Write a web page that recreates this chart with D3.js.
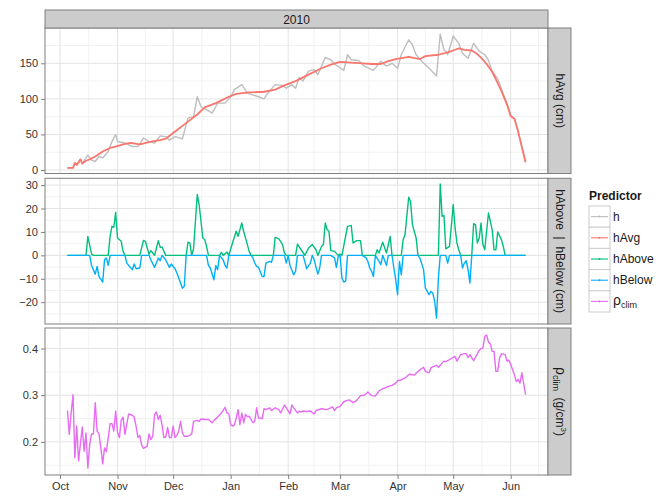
<!DOCTYPE html>
<head>
  <meta charset="utf-8">
  <script src="https://d3js.org/d3.v7.min.js"></script>
  <style>
    body { margin: 0; background: #fff; }
    text { font-family: "Liberation Sans", Arial, sans-serif; }
    .tick text { fill: #333; font-size: 11px; }
    .strip text { fill: #1a1a1a; font-size: 12px; }
    .legend text { fill: #1a1a1a; font-size: 12px; }
  </style>
</head>
<body>
<script>
// day offsets are days after 1 Oct 2009
var h = [[4,3],[7,3],[8,10],[9,7],[11,15],[12,9],[15,21],[17,14],[19,12],[21,19],[23,17],[26,26],[28,40],[30,50],[31,40],[35,38],[39,33],[42,33],[45,45],[48,40],[51,38],[54,48],[57,47],[59,42],[62,47],[66,44],[67,54],[69,73],[72,75],[74,103],[76,89],[79,85],[82,80],[84,89],[85,94],[89,94],[92,103],[94,113],[98,120],[101,108],[107,103],[110,100],[112,108],[116,120],[120,119],[122,115],[125,120],[127,115],[129,130],[131,125],[134,139],[137,141],[139,134],[143,158],[146,155],[148,149],[153,140],[155,162],[157,155],[161,154],[164,146],[169,140],[173,153],[176,146],[179,150],[182,143],[184,162],[188,183],[190,176],[192,162],[195,153],[199,143],[203,132],[205,191],[207,169],[208,167],[209,162],[212,188],[215,178],[217,164],[220,157],[223,178],[226,167],[229,162],[231,154],[233,139],[236,128],[238,114],[241,93],[243,76],[245,72],[247,54],[251,11]];

var hAvg = [[4,3],[7,3],[8,10],[9,7],[11,15],[12,9],[14,13],[16,15],[19,19],[23,26],[27,31],[30,33],[34,36],[38,38],[43,36],[49,40],[54,42],[57,44],[61,52],[64,58],[66,62],[69,68],[74,78],[78,88],[84,94],[91,103],[95,107],[102,109],[110,110],[116,113],[121,119],[127,125],[134,134],[141,143],[146,148],[151,152],[157,151],[163,150],[168,149],[173,149],[177,153],[181,156],[188,159],[192,157],[194,156],[197,160],[204,162],[210,166],[213,169],[215,171],[218,169],[222,168],[225,163],[227,158],[230,149],[233,138],[236,122],[238,111],[241,92],[243,76],[245,72],[247,54],[251,11]];

var hAbove = [[4,0],[14,0],[15,8.1],[17,0.6],[18,0],[26,0],[27,8.1],[28,12.4],[29,12],[30,18.4],[31,7.4],[33,6],[34,1.7],[35,0],[43,0],[45,6.4],[46,6],[48,0.5],[49,2],[50,1],[51,0],[53,6.3],[54,3.4],[55,3.6],[57,0],[68,0],[69,5.6],[70,5.3],[71,0],[72,2.8],[74,26],[75,21.7],[77,7.4],[78,6.8],[79,3.8],[80,0],[86,0],[87,1.3],[88,0],[90,1.4],[91,0],[93,5.3],[95,10.3],[96,8.1],[98,13.8],[99,10.3],[101,4.6],[102,1.7],[103,0],[115,0],[116,7.7],[118,7],[120,4.6],[121,1],[122,0],[127,0],[128,4.8],[130,2.4],[132,0],[134,3.1],[136,4.6],[138,2.4],[139,0],[141,3.8],[142,4.6],[143,13.8],[144,11],[145,10.3],[146,2],[148,1.7],[150,0],[151,0.5],[152,0],[155,12.4],[157,12.8],[158,5.3],[160,6.3],[162,6.3],[163,0],[170,0],[171,2.4],[172,1],[174,5.6],[176,1],[178,8.1],[179,0],[184,0],[185,6.7],[186,8.8],[188,24.8],[189,23],[190,13.1],[192,7.4],[193,0],[204,0],[205,30.5],[206,16.7],[207,17],[208,2.8],[210,3.8],[212,21.7],[213,11.7],[214,5.3],[215,2.4],[216,0],[222,0],[223,13.5],[224,13.1],[225,5.3],[226,7.4],[227,13.8],[228,4.6],[229,2.4],[231,18.1],[233,11],[234,2.4],[235,2.4],[236,10],[238,6.7],[239,3.8],[240,0],[251,0]];

var hBelow = [[4,0],[16,0],[17,-4.3],[19,-8],[20,-4.7],[21,-9],[23,-11.4],[24,-1.9],[25,-1.1],[26,-4.3],[27,0],[35,0],[36,-3.3],[37,-4.3],[39,-6.1],[40,-3.7],[41,-5.7],[43,-5.4],[44,0],[48,0],[49,-2],[51,-5.1],[53,-1.1],[54,-2.3],[55,0],[57,-2],[59,-5.1],[60,-3.7],[62,-5.7],[63,-7.5],[65,-11.8],[66,-14],[67,-13.2],[68,0],[79,0],[80,-4.3],[81,-5.4],[83,-10.4],[84,-4.3],[85,-6.1],[86,0],[88,-2],[89,-4.3],[90,-5.4],[91,0],[103,0],[104,-1.1],[105,-3.3],[106,-4.7],[107,-5.1],[109,-9],[110,-9],[111,-3.3],[113,-2.6],[114,-3],[115,0],[121,0],[122,-3.3],[123,0],[124,-4.3],[126,-8.3],[127,-6.8],[128,0],[131,0],[132,-2.6],[133,-5.7],[135,-3.3],[136,0],[137,-1.8],[139,-8],[140,-5.4],[141,0],[146,0],[148,-1.1],[149,-5.1],[150,-0.4],[151,0],[152,-9.7],[153,-11.4],[154,-11],[155,0],[163,0],[165,-1.1],[166,-2.6],[167,-5.4],[168,-6.8],[169,-9],[170,0],[172,-2.6],[173,-4],[174,0],[176,-4.3],[177,0],[179,0],[180,-5.4],[181,-10.4],[182,-16.8],[183,-2.6],[184,-8.3],[185,0],[193,0],[194,-1.1],[196,-6.1],[197,-14],[199,-16.8],[200,-15.4],[201,-16.1],[202,-19.7],[203,-26.8],[204,-9.7],[205,0],[208,0],[209,-3.3],[210,0],[216,0],[217,-5.4],[218,-3.3],[219,-2.3],[220,-6.1],[221,-11.8],[222,0],[251,0]];

var rhoClim = [[4,0.267],[5,0.216],[6,0.262],[7,0.301],[8,0.166],[9,0.234],[10,0.159],[12,0.232],[13,0.18],[14,0.219],[15,0.144],[16,0.194],[17,0.217],[18,0.217],[19,0.284],[20,0.223],[21,0.217],[22,0.187],[23,0.153],[24,0.187],[25,0.179],[26,0.209],[27,0.239],[28,0.239],[29,0.223],[30,0.266],[31,0.221],[32,0.209],[33,0.246],[34,0.253],[35,0.216],[37,0.26],[39,0.257],[40,0.253],[41,0.234],[42,0.209],[43,0.214],[44,0.193],[45,0.186],[47,0.191],[48,0.217],[49,0.205],[50,0.212],[51,0.259],[52,0.264],[53,0.248],[54,0.257],[55,0.236],[56,0.209],[57,0.21],[58,0.231],[59,0.209],[60,0.209],[61,0.234],[62,0.209],[63,0.214],[64,0.223],[65,0.244],[66,0.219],[67,0.212],[69,0.212],[71,0.217],[72,0.244],[74,0.246],[75,0.244],[76,0.249],[78,0.248],[80,0.248],[82,0.241],[83,0.246],[85,0.253],[87,0.262],[89,0.274],[90,0.262],[91,0.26],[92,0.237],[93,0.234],[94,0.236],[95,0.251],[96,0.269],[97,0.237],[98,0.262],[99,0.241],[100,0.259],[101,0.254],[102,0.255],[104,0.241],[105,0.244],[106,0.273],[107,0.251],[109,0.25],[110,0.271],[111,0.269],[113,0.273],[114,0.267],[116,0.273],[118,0.269],[119,0.262],[121,0.279],[122,0.273],[124,0.26],[125,0.279],[126,0.273],[128,0.262],[129,0.266],[130,0.264],[131,0.266],[133,0.265],[135,0.266],[137,0.26],[138,0.267],[141,0.271],[144,0.269],[147,0.275],[148,0.267],[149,0.273],[151,0.276],[153,0.286],[155,0.289],[156,0.29],[158,0.284],[160,0.289],[162,0.299],[164,0.3],[166,0.307],[168,0.299],[170,0.298],[172,0.309],[174,0.314],[175,0.315],[177,0.319],[179,0.321],[181,0.326],[182,0.331],[184,0.333],[186,0.337],[188,0.344],[189,0.345],[191,0.343],[193,0.351],[196,0.36],[197,0.351],[199,0.348],[200,0.359],[203,0.364],[204,0.36],[207,0.373],[208,0.372],[210,0.376],[212,0.381],[213,0.383],[214,0.373],[216,0.387],[218,0.389],[219,0.389],[220,0.381],[221,0.387],[223,0.374],[224,0.381],[226,0.396],[227,0.4],[228,0.401],[229,0.426],[230,0.429],[231,0.414],[232,0.41],[233,0.394],[234,0.394],[235,0.351],[236,0.351],[237,0.38],[238,0.389],[240,0.387],[241,0.373],[242,0.375],[243,0.366],[245,0.344],[246,0.329],[247,0.334],[248,0.326],[249,0.348],[251,0.301]];

var monthLabels = ["Oct", "Nov", "Dec", "Jan", "Feb", "Mar", "Apr", "May", "Jun"];
var legendLabels = ["h", "hAvg", "hAbove", "hBelow", "rho"];
var colors = {h: "#bebebe", hAvg: "#F8766D", hAbove: "#00BF7D", hBelow: "#00B0F6", rho: "#E76BF3"};

var startMs = Date.UTC(2009, 9, 1);
function toDate(d) { return new Date(startMs + d * 864e5); }

var svg = d3.select("body").append("svg")
    .attr("width", 665)
    .attr("height", 496);

var x = d3.scaleUtc()
    .domain([toDate(-8.1), toDate(263.1)])
    .range([45, 548]);

var panels = [
  {y: d3.scaleLinear().domain([-4.9, 199.6]).range([173.5, 28]),
   ticks: [0, 50, 100, 150], minor: [25, 75, 125, 175], fmt: d3.format("d"),
   series: [["h", h], ["hAvg", hAvg]]},
  {y: d3.scaleLinear().domain([-29.3, 32.9]).range([324, 178.3]),
   ticks: [-20, -10, 0, 10, 20, 30], minor: [-25, -15, -5, 5, 15, 25], fmt: function(d) { return d3.format("d")(d).replace("-", "\u2212"); },
   series: [["hAbove", hAbove], ["hBelow", hBelow]]},
  {y: d3.scaleLinear().domain([0.129, 0.444]).range([475, 328]),
   ticks: [0.2, 0.3, 0.4], minor: [0.15, 0.25, 0.35], fmt: d3.format(".1f"),
   series: [["rho", rhoClim]]}
];

var majorX = d3.utcMonth.range(toDate(-8.1), toDate(263.1));
var minorX = [];
d3.utcMonth.range(toDate(-40), toDate(300)).forEach(function(m) {
  var next = d3.utcMonth.offset(m, 1);
  var mid = new Date((+m + +next) / 2);
  if (mid > x.domain()[0] && mid < x.domain()[1]) minorX.push(mid);
});

var x0 = x.range()[0], x1 = x.range()[1];

panels.forEach(function(p, i) {
  var y = p.y;
  var yT = y.range()[1], yB = y.range()[0];
  var g = svg.append("g");

  g.append("rect").attr("x", x0).attr("y", yT).attr("width", x1 - x0).attr("height", yB - yT).attr("fill", "#fff");

  // minor grid
  g.selectAll(".mx").data(minorX).enter().append("line")
      .attr("x1", function(d) { return x(d); }).attr("x2", function(d) { return x(d); })
      .attr("y1", yT).attr("y2", yB).attr("stroke", "#f2f2f2").attr("stroke-width", 1);
  g.selectAll(".my").data(p.minor).enter().append("line")
      .attr("x1", x0).attr("x2", x1)
      .attr("y1", function(d) { return y(d); }).attr("y2", function(d) { return y(d); })
      .attr("stroke", "#f2f2f2").attr("stroke-width", 1);
  // major grid
  g.selectAll(".gx").data(majorX).enter().append("line")
      .attr("x1", function(d) { return x(d); }).attr("x2", function(d) { return x(d); })
      .attr("y1", yT).attr("y2", yB).attr("stroke", "#e3e3e3").attr("stroke-width", 1);
  g.selectAll(".gy").data(p.ticks).enter().append("line")
      .attr("x1", x0).attr("x2", x1)
      .attr("y1", function(d) { return y(d); }).attr("y2", function(d) { return y(d); })
      .attr("stroke", "#e3e3e3").attr("stroke-width", 1);

  var line = d3.line()
      .x(function(d) { return x(toDate(d[0])); })
      .y(function(d) { return y(d[1]); });

  p.series.forEach(function(s) {
    g.append("path")
        .datum(s[1])
        .attr("fill", "none")
        .attr("stroke", colors[s[0]])
        .attr("stroke-width", s[0] === "hAvg" ? 1.8 : 1.4)
        .attr("stroke-linejoin", "round")
        .attr("d", line);
  });

  g.append("rect").attr("x", x0).attr("y", yT).attr("width", x1 - x0).attr("height", yB - yT)
      .attr("fill", "none").attr("stroke", "#7f7f7f").attr("stroke-width", 1);

  var ax = svg.append("g")
      .attr("transform", "translate(" + x0 + ",0)")
      .call(d3.axisLeft(y).tickValues(p.ticks).tickFormat(p.fmt).tickSize(4).tickPadding(3));
  ax.select(".domain").remove();
  ax.selectAll(".tick line").attr("stroke", "#7f7f7f");

  // right strip
  var st = svg.append("g").attr("class", "strip");
  st.append("rect").attr("x", x1).attr("y", yT).attr("width", 23).attr("height", yB - yT)
      .attr("fill", "#cccccc").attr("stroke", "#7f7f7f").attr("stroke-width", 1);
  var t = st.append("text")
      .attr("transform", "translate(" + (x1 + 7.5) + "," + ((yT + yB) / 2) + ") rotate(90)")
      .attr("text-anchor", "middle");
  if (i === 0) t.text("hAvg (cm)");
  if (i === 1) t.text("hAbove  |  hBelow (cm)").attr("xml:space", "preserve");
  if (i === 2) {
    t.attr("xml:space", "preserve");
    t.append("tspan").text("\u03c1").attr("font-size", "14px");
    t.append("tspan").text("clim").attr("font-size", "9px").attr("dy", 3);
    t.append("tspan").text("  (g/cm").attr("dy", -3);
    t.append("tspan").text("3").attr("font-size", "8px").attr("dy", -5);
    t.append("tspan").text(")").attr("dy", 5);
  }
});

// x axis
var xa = svg.append("g")
    .attr("transform", "translate(0,475)")
    .call(d3.axisBottom(x).tickValues(majorX).tickFormat(function(d, i) { return monthLabels[i]; }).tickSize(4).tickPadding(3));
xa.select(".domain").remove();
xa.selectAll(".tick line").attr("stroke", "#7f7f7f");

// top strip
var ts = svg.append("g").attr("class", "strip");
ts.append("rect").attr("x", x0).attr("y", 10).attr("width", x1 - x0).attr("height", 18)
    .attr("fill", "#cccccc").attr("stroke", "#7f7f7f").attr("stroke-width", 1);
ts.append("text").attr("x", (x0 + x1) / 2).attr("y", 23.5).attr("text-anchor", "middle").text("2010");

// legend
var lg = svg.append("g").attr("class", "legend");
lg.append("text").attr("x", 589).attr("y", 200).attr("font-weight", "bold").attr("font-size", "12px").text("Predictor");
var keyH = 21.2, keyTop = 206;
legendLabels.forEach(function(k, i) {
  var ky = keyTop + i * keyH;
  lg.append("rect").attr("x", 589).attr("y", ky).attr("width", 21).attr("height", keyH)
      .attr("fill", "#fff").attr("stroke", "#cccccc").attr("stroke-width", 1);
  lg.append("line").attr("x1", 591).attr("x2", 608).attr("y1", ky + keyH / 2).attr("y2", ky + keyH / 2)
      .attr("stroke", colors[k]).attr("stroke-width", 1.1);
  lg.append("circle").attr("cx", 599.5).attr("cy", ky + keyH / 2).attr("r", 1).attr("fill", colors[k]);
  var t = lg.append("text").attr("x", 613).attr("y", ky + keyH / 2 + 4);
  if (k === "rho") {
    t.append("tspan").text("\u03c1").attr("font-size", "14px");
    t.append("tspan").text("clim").attr("font-size", "9px").attr("dy", 3);
  } else {
    t.text(k);
  }
});
</script>
</body>
